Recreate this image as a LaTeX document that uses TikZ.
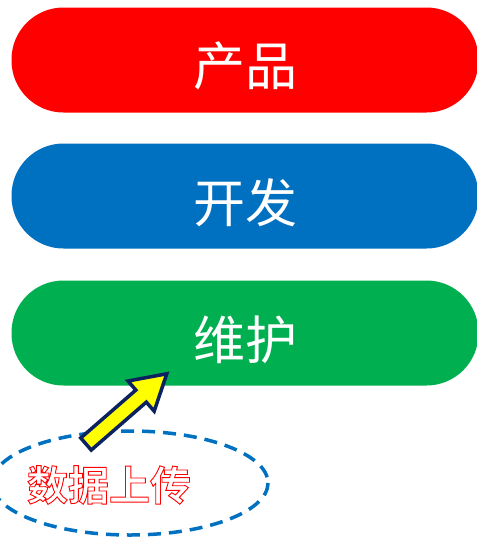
\documentclass[tikz,border=0pt]{standalone}
\usepackage{fontspec}
\newfontfamily\cjk{Noto Sans CJK SC}
\newfontfamily\cjkb{Noto Sans CJK SC Bold}
\usetikzlibrary{shapes.geometric}
\definecolor{pred}{HTML}{FF0000}
\definecolor{pblue}{HTML}{0070C0}
\definecolor{pgreen}{HTML}{00B050}
\definecolor{pnavy}{HTML}{0B2160}
\definecolor{pyellow}{HTML}{FFFF00}
\newcommand{\outlinedtext}[1]{\textcolor{white}{\special{pdf:code 2 Tr 0.9 w 1 0 0 RG 1 1 1 rg}#1\special{pdf:code 0 Tr}}}
\tikzset{
  pill/.style={rounded corners=52pt, minimum width=467pt, minimum height=105pt,
    inner sep=0pt},
  pilltext/.style={text=white, font=\cjk\fontsize{52}{52}\selectfont},
  blockarrow/.style={draw=pnavy, fill=pyellow, line width=3.5pt, line join=miter},
  dashring/.style={draw=pblue, line width=3.5pt, dash pattern=on 13pt off 8pt}
}
\begin{document}
\begin{tikzpicture}[x=1pt,y=-1pt]
\useasboundingbox (0,0) rectangle (477,539);
\begin{scope}
\clip (0,0) rectangle (477,539);
\node[pill, fill=pred] (prod) at (245,60) {};
\node[pilltext] (prodt) at (245,66) {产品};
\node[pill, fill=pblue] (dev) at (245,196) {};
\node[pilltext] (devt) at (245,203) {开发};
\node[pill, fill=pgreen] (maint) at (245,333) {};
\node[pilltext] (maintt) at (245,340) {维护};
\draw[dashring] (130,483) ellipse [x radius=138, y radius=52];
\node[font=\cjkb\fontsize{41}{41}\selectfont, inner sep=0pt] (upload) at (109,485)
  {\outlinedtext{数据上传}};
\begin{scope}[shift={(86,444)}, rotate=41]
\draw[blockarrow] (0,-8) -- (73,-8) -- (73,-20) -- (107,0) -- (73,20) -- (73,8) -- (0,8) -- cycle;
\end{scope}
\end{scope}
\end{tikzpicture}
\end{document}
